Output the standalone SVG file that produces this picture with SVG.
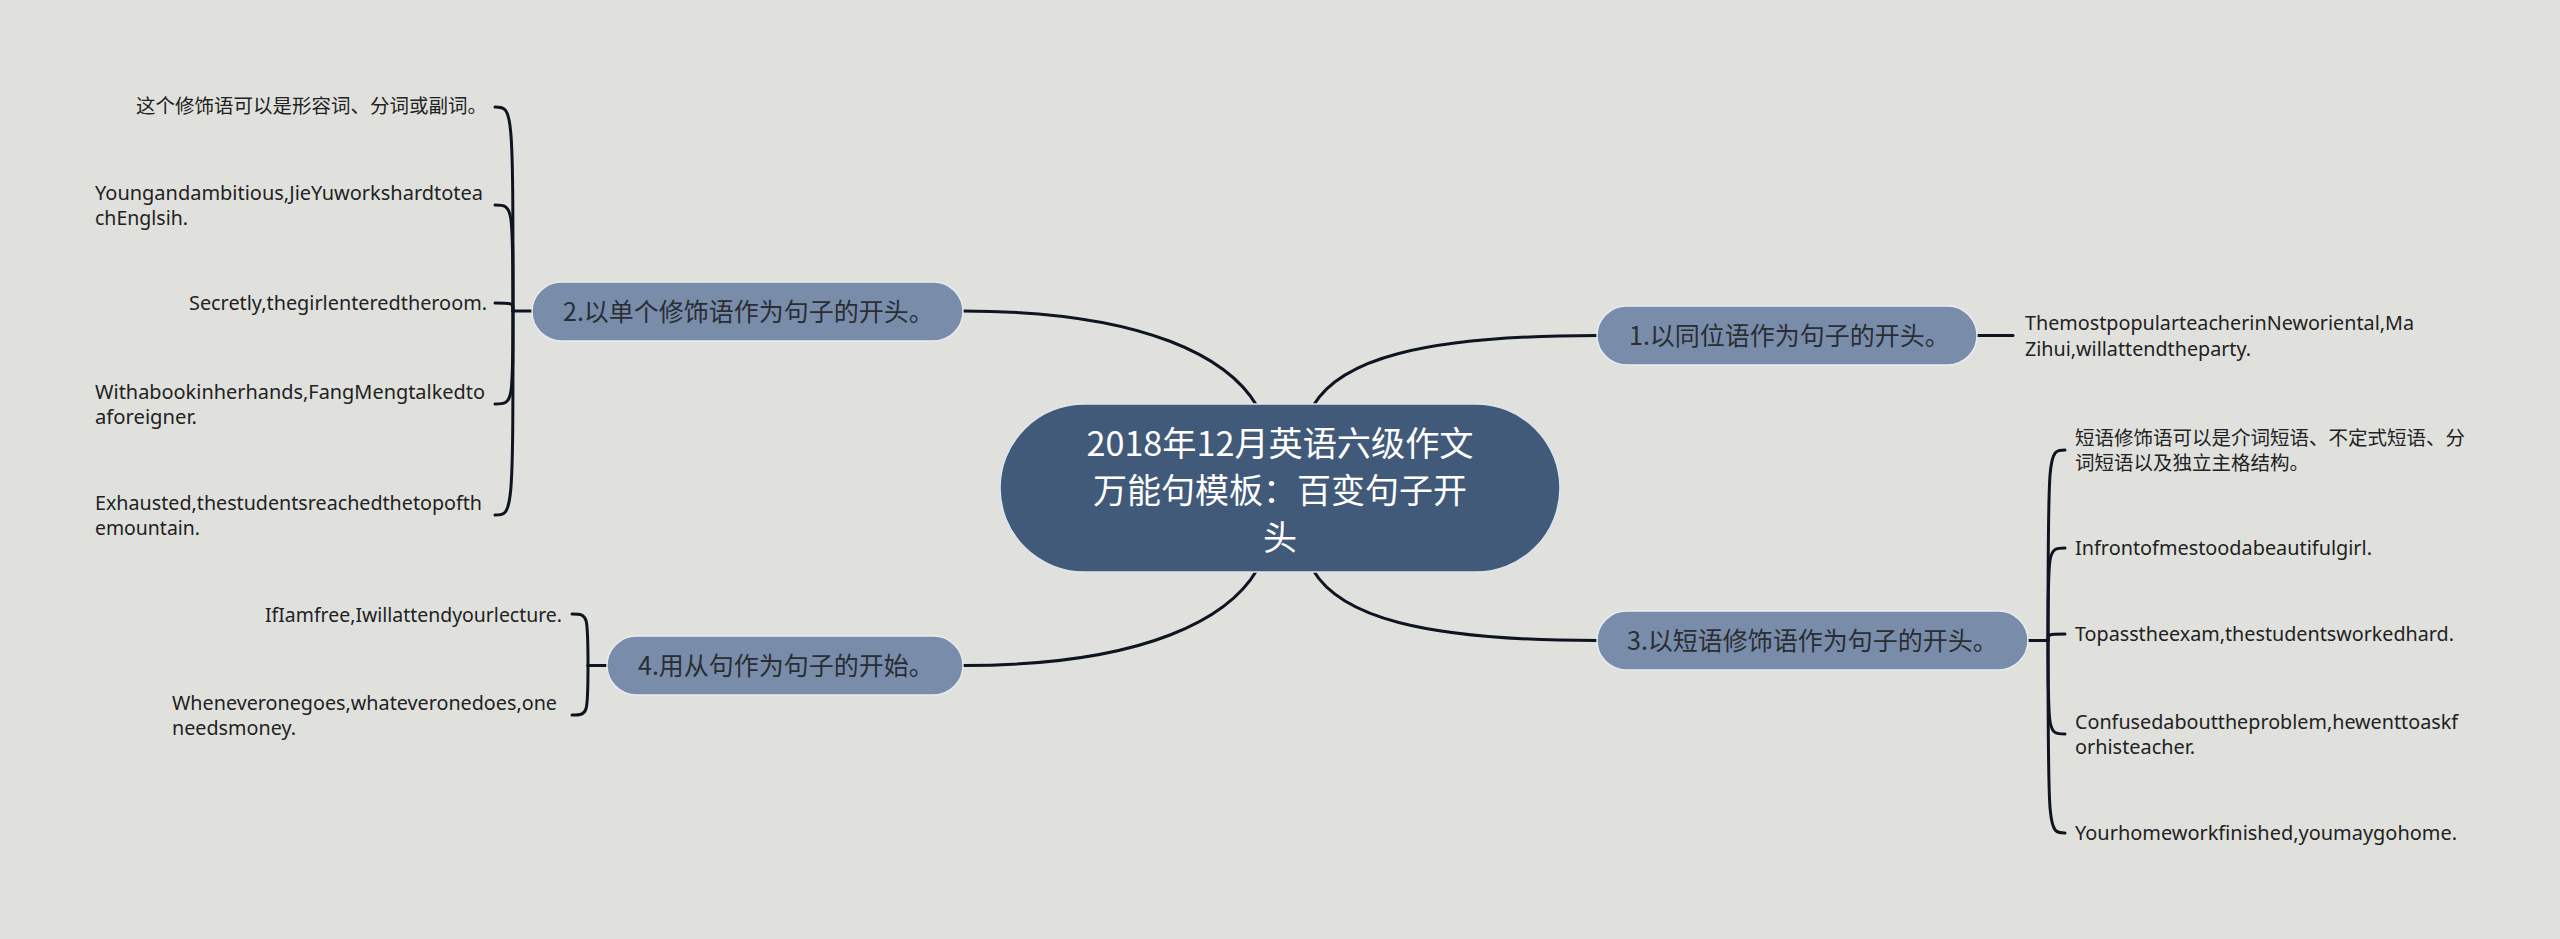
<svg xmlns="http://www.w3.org/2000/svg" width="2560" height="939" viewBox="0 0 2560 939">
<style>
.bg{fill:#e0e1dc}
.ln{fill:none;stroke:#0e1520;stroke-width:3;stroke-linecap:round}
.main{fill:#425a7a;stroke:#dfe5ee;stroke-width:1.5}
.br{fill:#798daa;stroke:#e6ebf2;stroke-width:1.5}
.mt{font-family:"Noto Sans CJK SC",sans-serif;font-size:34px;fill:#ffffff;text-anchor:middle}
.bt{font-family:"Noto Sans CJK SC",sans-serif;font-size:25px;fill:#2a2d33}
.lc{font-family:"Noto Sans CJK SC",sans-serif;font-size:19.5px;fill:#222222}
.le{font-family:"Noto Sans","Noto Sans CJK SC",sans-serif;font-size:19.5px;fill:#222222}
</style>
<rect class="bg" x="0" y="0" width="2560" height="939"/>
<g id="connectors">
<path class="ln" d="M963,311 C1150,311 1230,360 1257,406"/>
<path class="ln" d="M1313,406 C1340,360 1420,335.5 1597,335.5"/>
<path class="ln" d="M1313,570 C1340,616 1420,640.5 1597,640.5"/>
<path class="ln" d="M1257,570 C1230,616 1150,665.5 963,665.5"/>
<path class="ln" d="M532,311 L513,311"/>
<path class="ln" d="M513,311 C513,107 513,107 495,107"/>
<path class="ln" d="M513,311 C513,205 513,205 495,205"/>
<path class="ln" d="M513,311 C513,303 513,303 495,303"/>
<path class="ln" d="M513,311 C513,404 513,404 495,404"/>
<path class="ln" d="M513,311 C513,515 513,515 495,515"/>
<path class="ln" d="M607,665.5 L588,665.5"/>
<path class="ln" d="M588,665.5 C588,614 588,614 572,614"/>
<path class="ln" d="M588,665.5 C588,715 588,715 572,715"/>
<path class="ln" d="M1977,335.5 L2013,335.5"/>
<path class="ln" d="M2028,640.5 L2048,640.5"/>
<path class="ln" d="M2048,640.5 C2048,450 2048,450 2065,450"/>
<path class="ln" d="M2048,640.5 C2048,548 2048,548 2065,548"/>
<path class="ln" d="M2048,640.5 C2048,634 2048,634 2065,634"/>
<path class="ln" d="M2048,640.5 C2048,734 2048,734 2065,734"/>
<path class="ln" d="M2048,640.5 C2048,833 2048,833 2065,833"/>
</g>
<g id="center">
<rect class="main" x="1000" y="404" width="560" height="168" rx="84"/>
<text class="mt" x="1280" y="456" textLength="387" lengthAdjust="spacingAndGlyphs">2018年12月英语六级作文</text>
<text class="mt" x="1280" y="503">万能句模板：百变句子开</text>
<text class="mt" x="1280" y="550">头</text>
</g>
<g id="n1">
<rect class="br" x="1597" y="306" width="380" height="59" rx="29.5"/>
<text class="bt" x="1629" y="345">1.以同位语作为句子的开头。</text>
</g>
<g id="n2">
<rect class="br" x="532" y="282" width="431" height="59" rx="29.5"/>
<text class="bt" x="563" y="320.5">2.以单个修饰语作为句子的开头。</text>
</g>
<g id="n3">
<rect class="br" x="1597" y="611" width="431" height="59" rx="29.5"/>
<text class="bt" x="1627" y="650">3.以短语修饰语作为句子的开头。</text>
</g>
<g id="n4">
<rect class="br" x="607" y="636" width="356" height="59" rx="29.5"/>
<text class="bt" x="638" y="675">4.用从句作为句子的开始。</text>
</g>
<g id="l2a"><text class="lc" x="487" y="113" text-anchor="end">这个修饰语可以是形容词、分词或副词。</text></g>
<g id="l2b">
<text class="le" x="95" y="200" textLength="388" lengthAdjust="spacingAndGlyphs">Youngandambitious,JieYuworkshardtotea</text>
<text class="le" x="95" y="225" textLength="93" lengthAdjust="spacingAndGlyphs">chEnglsih.</text>
</g>
<g id="l2c"><text class="le" x="189" y="310" textLength="298" lengthAdjust="spacingAndGlyphs">Secretly,thegirlenteredtheroom.</text></g>
<g id="l2d">
<text class="le" x="95" y="399" textLength="390" lengthAdjust="spacingAndGlyphs">Withabookinherhands,FangMengtalkedto</text>
<text class="le" x="95" y="424" textLength="102" lengthAdjust="spacingAndGlyphs">aforeigner.</text>
</g>
<g id="l2e">
<text class="le" x="95" y="510" textLength="387" lengthAdjust="spacingAndGlyphs">Exhausted,thestudentsreachedthetopofth</text>
<text class="le" x="95" y="535" textLength="105" lengthAdjust="spacingAndGlyphs">emountain.</text>
</g>
<g id="l4a"><text class="le" x="265" y="622" textLength="297" lengthAdjust="spacingAndGlyphs">IfIamfree,Iwillattendyourlecture.</text></g>
<g id="l4b">
<text class="le" x="172" y="710" textLength="385" lengthAdjust="spacingAndGlyphs">Wheneveronegoes,whateveronedoes,one</text>
<text class="le" x="172" y="735" textLength="124" lengthAdjust="spacingAndGlyphs">needsmoney.</text>
</g>
<g id="l1a">
<text class="le" x="2025" y="330" textLength="389" lengthAdjust="spacingAndGlyphs">ThemostpopularteacherinNeworiental,Ma</text>
<text class="le" x="2025" y="356" textLength="226" lengthAdjust="spacingAndGlyphs">Zihui,willattendtheparty.</text>
</g>
<g id="l3a">
<text class="lc" x="2075" y="445">短语修饰语可以是介词短语、不定式短语、分</text>
<text class="lc" x="2075" y="470">词短语以及独立主格结构。</text>
</g>
<g id="l3b"><text class="le" x="2075" y="555" textLength="297" lengthAdjust="spacingAndGlyphs">Infrontofmestoodabeautifulgirl.</text></g>
<g id="l3c"><text class="le" x="2075" y="641" textLength="379" lengthAdjust="spacingAndGlyphs">Topasstheexam,thestudentsworkedhard.</text></g>
<g id="l3d">
<text class="le" x="2075" y="729" textLength="383" lengthAdjust="spacingAndGlyphs">Confusedabouttheproblem,hewenttoaskf</text>
<text class="le" x="2075" y="754" textLength="120" lengthAdjust="spacingAndGlyphs">orhisteacher.</text>
</g>
<g id="l3e"><text class="le" x="2075" y="840" textLength="382" lengthAdjust="spacingAndGlyphs">Yourhomeworkfinished,youmaygohome.</text></g>
</svg>
